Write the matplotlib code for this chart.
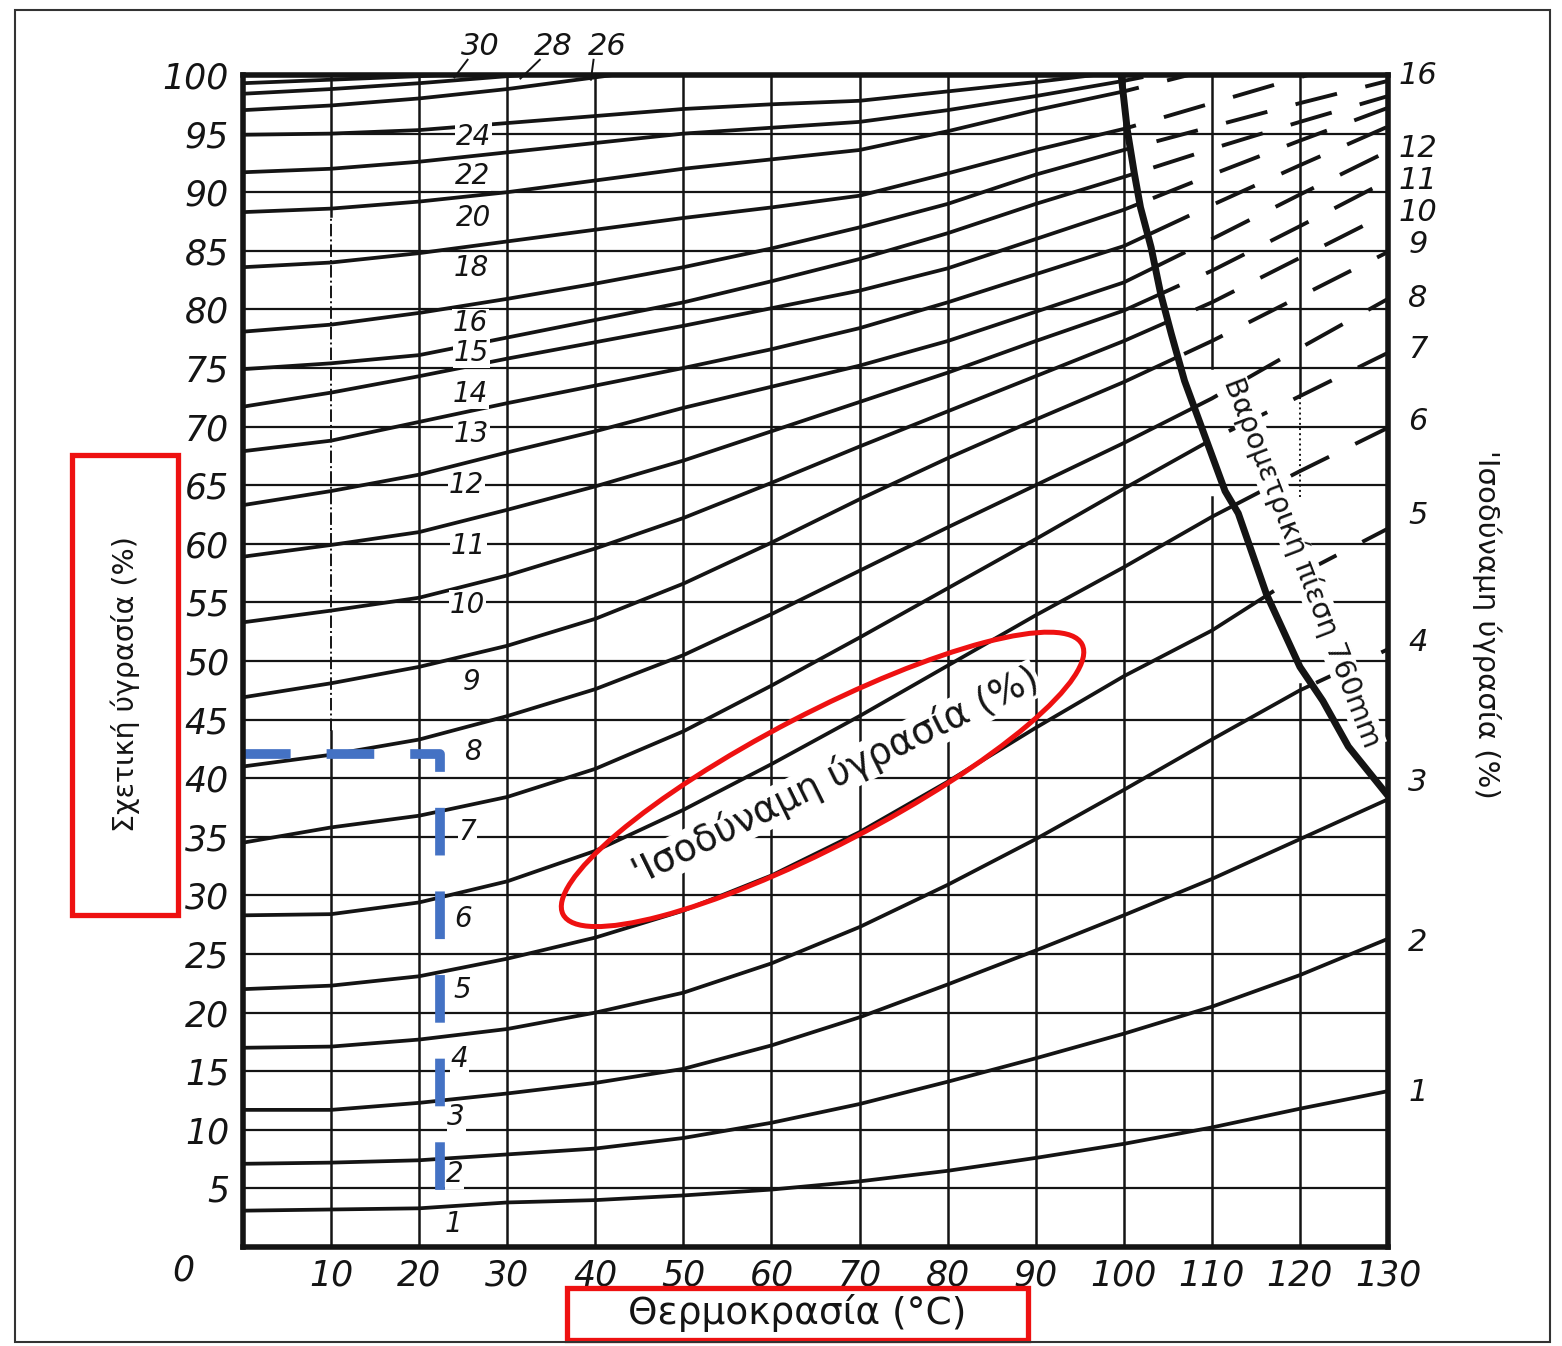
import matplotlib
matplotlib.use("Agg")
import matplotlib.pyplot as plt
from matplotlib.patches import Polygon, Ellipse, Rectangle
from matplotlib.transforms import IdentityTransform

plt.rcParams['font.family'] = ['DejaVu Sans']

# temperature grid (deg C) shared by all curves
temps = [0, 10, 20, 30, 40, 50, 60, 70, 80, 90, 100, 110, 120, 130]

# relative humidity (%) along each equivalent-humidity curve
rh_1 = [3.1, 3.2, 3.3, 3.8, 4.0, 4.4, 4.9, 5.6, 6.5, 7.6, 8.8, 10.2, 11.8, 13.3]
rh_2 = [7.1, 7.2, 7.4, 7.9, 8.4, 9.3, 10.6, 12.2, 14.1, 16.1, 18.2, 20.5, 23.2, 26.3]
rh_3 = [11.7, 11.7, 12.3, 13.1, 14.0, 15.2, 17.2, 19.6, 22.4, 25.3, 28.3, 31.4, 34.8, 38.2]
rh_4 = [17.0, 17.1, 17.7, 18.6, 20.0, 21.7, 24.2, 27.3, 30.9, 34.8, 39.0, 43.3, 47.5, 51.0]
rh_5 = [22.0, 22.3, 23.1, 24.6, 26.4, 28.7, 31.7, 35.4, 39.7, 44.3, 48.7, 52.6, 57.4, 61.3]
rh_6 = [28.3, 28.4, 29.4, 31.2, 33.8, 37.3, 41.2, 45.3, 49.6, 53.9, 58.0, 62.3, 66.2, 69.9]
rh_7 = [34.5, 35.8, 36.8, 38.4, 40.8, 44.0, 47.9, 52.0, 56.2, 60.4, 64.7, 68.9, 72.6, 76.3]
rh_8 = [41.0, 42.0, 43.3, 45.3, 47.6, 50.5, 54.0, 57.7, 61.4, 65.0, 68.6, 72.4, 76.7, 80.9]
rh_9 = [46.9, 48.1, 49.5, 51.3, 53.6, 56.6, 60.1, 63.8, 67.3, 70.6, 73.8, 77.3, 81.1, 84.9]
rh_10 = [53.3, 54.3, 55.4, 57.3, 59.6, 62.2, 65.2, 68.3, 71.3, 74.3, 77.3, 80.6, 84.4, 88.2]
rh_11 = [58.9, 59.9, 61.0, 62.9, 64.9, 67.1, 69.6, 72.1, 74.6, 77.3, 79.9, 83.3, 87.1, 91.0]
rh_12 = [63.3, 64.5, 65.9, 67.8, 69.6, 71.6, 73.4, 75.2, 77.3, 79.8, 82.3, 86.0, 89.8, 93.5]
rh_13 = [67.9, 68.8, 70.4, 72.0, 73.5, 75.0, 76.6, 78.4, 80.6, 83.0, 85.4, 88.9, 92.3, 95.6]
rh_14 = [71.7, 72.9, 74.3, 75.8, 77.2, 78.6, 80.1, 81.6, 83.5, 86.0, 88.5, 91.5, 94.4, 97.2]
rh_15 = [74.9, 75.4, 76.1, 77.6, 79.1, 80.6, 82.4, 84.3, 86.5, 89.0, 91.3, 93.7, 96.0, 98.2]
rh_16 = [78.1, 78.7, 79.7, 80.9, 82.2, 83.6, 85.2, 87.0, 89.0, 91.5, 93.6, 95.6, 97.6, 99.5]
rh_18 = [83.6, 84.0, 84.8, 85.8, 86.8, 87.8, 88.7, 89.7, 91.6, 93.6, 95.4, 97.6, 99.8, 102.0]
rh_20 = [88.3, 88.6, 89.2, 90.0, 91.0, 92.0, 92.8, 93.6, 95.2, 97.0, 98.6, 100.5]
rh_22 = [91.7, 92.0, 92.6, 93.4, 94.2, 95.0, 95.5, 96.0, 97.0, 98.2, 99.5, 101.0]
rh_24 = [94.9, 95.0, 95.3, 95.9, 96.5, 97.1, 97.5, 97.8, 98.6, 99.4, 100.3]
rh_26 = [97.0, 97.4, 98.0, 98.8, 99.8, 100.8]
rh_28 = [98.4, 98.8, 99.3, 99.9, 100.5]
rh_30 = [99.3, 99.6, 99.9, 100.3]

curves = [(1, rh_1), (2, rh_2), (3, rh_3), (4, rh_4), (5, rh_5), (6, rh_6),
          (7, rh_7), (8, rh_8), (9, rh_9), (10, rh_10), (11, rh_11), (12, rh_12),
          (13, rh_13), (14, rh_14), (15, rh_15), (16, rh_16), (18, rh_18),
          (20, rh_20), (22, rh_22), (24, rh_24), (26, rh_26), (28, rh_28), (30, rh_30)]

# barometric pressure 760 mm line
press_t = [99.7, 100.4, 101.2, 101.9, 103.1, 104.2, 105.4, 106.9, 109.2, 111.5,
           113.0, 116.2, 120.0, 122.6, 125.5, 130.0]
press_rh = [100.0, 95.3, 91.6, 88.7, 85.3, 81.3, 77.9, 73.9, 69.2, 64.5,
            62.6, 55.7, 49.5, 46.6, 42.7, 38.5]

# labels on the right edge (dashed continuations at 130 C)
right_labels = ['16', '12', '11', '10', '9', '8', '7', '6', '5', '4', '3', '2', '1']
right_rh = [100.0, 93.7, 91.0, 88.3, 85.5, 80.9, 76.6, 70.4, 62.4, 51.6, 39.6, 26.0, 13.2]

x_ticks = list(range(10, 131, 10))
y_ticks = list(range(5, 101, 5))

# inline curve labels: (text, T, RH) placement
inline_pos = [('24', 26.2, 94.7), ('22', 26.1, 91.4), ('20', 26.2, 87.8), ('18', 25.9, 83.5),
              ('16', 25.8, 78.8), ('15', 25.9, 76.3), ('14', 25.8, 72.8), ('13', 25.9, 69.4),
              ('12', 25.4, 65.0), ('11', 25.6, 59.8), ('10', 25.5, 54.8), ('9', 26.0, 48.2),
              ('8', 26.1, 42.2), ('7', 25.5, 35.4), ('6', 25.0, 28.0), ('5', 24.9, 21.9),
              ('4', 24.6, 16.0), ('3', 24.2, 11.1), ('2', 24.0, 6.2), ('1', 23.9, 2.0)]

W, H = 1562, 1346
fig = plt.figure(figsize=(W / 100, H / 100), dpi=100)
ax = fig.add_axes([243 / W, 1 - 1247 / H, (1388 - 243) / W, (1247 - 75) / H])
ax.set_xlim(0, 130)
ax.set_ylim(0, 100)

ink = '#141414'

# grid
for t in x_ticks[:-1]:
    if t == 10:
        ax.plot([t, t], [0, 44], color=ink, lw=1.8)
        ax.plot([t, t], [44, 88], color=ink, lw=1.4, ls='-.')
        ax.plot([t, t], [88, 100], color=ink, lw=1.8)
    elif t == 110:
        ax.plot([t, t], [0, 64], color=ink, lw=1.8)
        ax.plot([t, t], [75, 100], color=ink, lw=1.8)
    elif t == 120:
        ax.plot([t, t], [0, 48], color=ink, lw=1.8)
        ax.plot([t, t], [64, 72.7], color=ink, lw=1.4, ls=':')
        ax.plot([t, t], [72.7, 100], color=ink, lw=1.8)
    else:
        ax.plot([t, t], [0, 100], color=ink, lw=1.8)
for r in y_ticks[:-1]:
    ax.plot([0, 130], [r, r], color=ink, lw=1.6)

# clip regions left / right of the pressure line
left_pts = [(-5, -5), (140, -5), (140, press_rh[-1])]
left_pts += list(zip(press_t[::-1], press_rh[::-1]))
left_pts += [(press_t[0], 110), (-5, 110)]
left_region = Polygon(left_pts, closed=True, transform=ax.transData)
right_pts = [(press_t[0], 110)] + list(zip(press_t, press_rh))
right_pts += [(140, press_rh[-1]), (140, 110)]
right_region = Polygon(right_pts, closed=True, transform=ax.transData)

for num, rh in curves:
    tt = temps[:len(rh)]
    solid, = ax.plot(tt, rh, color=ink, lw=2.7, solid_joinstyle='round')
    solid.set_clip_path(left_region)
    dash, = ax.plot(tt, rh, color=ink, lw=2.8, dashes=(11, 7.5))
    dash.set_clip_path(right_region)

ax.plot(press_t, press_rh, color=ink, lw=5, solid_capstyle='butt')

for sp in ax.spines.values():
    sp.set_linewidth(4)
    sp.set_color(ink)

tick_font = dict(fontsize=25, style='italic', color=ink)
ax.set_xticks(x_ticks)
ax.set_xticklabels([str(v) for v in x_ticks], **tick_font)
ax.set_yticks(y_ticks)
ax.set_yticklabels([str(v) for v in y_ticks], **tick_font)
ax.tick_params(length=0)
ax.tick_params(axis='y', pad=10)
ax.tick_params(axis='x', pad=8)
ax.text(-6.8, -2.0, '0', ha='center', va='center', clip_on=False, **tick_font)

for txt, tx, ty in inline_pos:
    ax.text(tx, ty, txt, ha='center', va='center', fontsize=20, style='italic',
            color=ink, bbox=dict(fc='white', ec='none', pad=0.6))

for txt, ty in zip(right_labels, right_rh):
    ax.text(133.4, ty, txt, ha='center', va='center', fontsize=22, style='italic',
            color=ink, clip_on=False)

# labels of the top curves with leader lines
for txt, tx, lx, ly in [('30', 27.0, 24.0, 99.8), ('28', 35.2, 31.5, 99.7), ('26', 41.3, 39.5, 99.6)]:
    ax.text(tx, 102.4, txt, ha='center', va='center', fontsize=22, style='italic',
            color=ink, clip_on=False)
    ax.plot([tx - 1.5, lx], [101.3, ly], color=ink, lw=1.4, clip_on=False)

ax.text(67.3, 40.2, "'Ισοδύναμη ύγρασία (%)", rotation=26.3, rotation_mode='anchor',
        ha='center', va='center', fontsize=27, color=ink,
        bbox=dict(fc='white', ec='none', pad=0.5))
ax.text(120.3, 58.4, 'Βαρομετρική πίεση 760mm', rotation=-69, rotation_mode='anchor',
        ha='center', va='center', fontsize=20.5, color=ink,
        bbox=dict(fc='white', ec='none', pad=0.3))

ax.text(-13.4, 48.0, 'Σχετική ύγρασία (%)', rotation=90, ha='center', va='center',
        fontsize=20.5, color=ink, clip_on=False)
ax.text(62.9, -5.6, 'Θερμοκρασία (°C)', ha='center', va='center',
        fontsize=27, color=ink, clip_on=False)
ax.text(141.2, 53.1, "'Ισοδύναμη ύγρασία (%)", rotation=-90, ha='center', va='center',
        fontsize=21, color=ink, clip_on=False)

# blue dashed reading guide
ax.plot([0, 22.4, 22.4], [42.1, 42.1, 3.2], color='#4472C4', lw=7,
        dashes=(4.9, 3.7), solid_capstyle='butt', clip_on=False)

# red highlight ellipse and boxes
cx, cy = ax.transData.transform((65.8, 39.9))
fig.add_artist(Ellipse((cx, cy), 585, 132, angle=27.5, transform=IdentityTransform(),
                       fill=False, ec='#ee1111', lw=3.6))
fig.add_artist(Rectangle((72 / W, 1 - 915 / H), 106 / W, 460 / H, transform=fig.transFigure,
                         fill=False, ec='#ee1111', lw=3.8))
fig.add_artist(Rectangle((567 / W, 1 - 1340 / H), 461 / W, 52 / H, transform=fig.transFigure,
                         fill=False, ec='#ee1111', lw=3.8))

# scan border
fig.add_artist(Rectangle((15 / W, 4 / H), 1535 / W, 1332 / H, transform=fig.transFigure,
                         fill=False, ec='#333333', lw=1.5))

fig.savefig('out.png', dpi=100)
